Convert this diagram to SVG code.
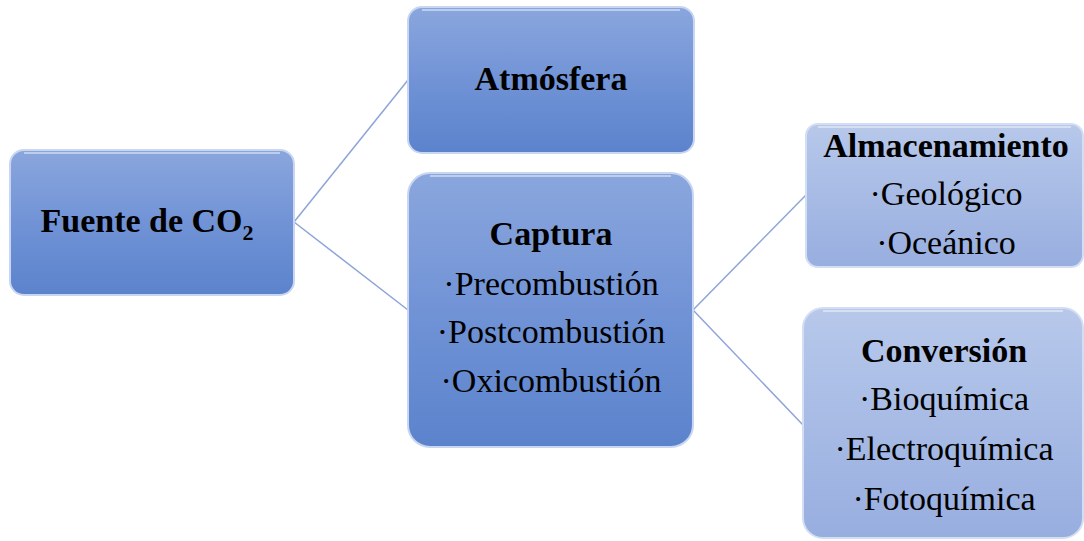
<svg xmlns="http://www.w3.org/2000/svg" width="1084" height="541" viewBox="0 0 1084 541">
<defs>
<linearGradient id="gDark" x1="0" y1="0" x2="0" y2="1">
<stop offset="0" stop-color="#8aa6dd"/>
<stop offset="0.5" stop-color="#7193d6"/>
<stop offset="1" stop-color="#5b83cc"/>
</linearGradient>
<linearGradient id="gLight" x1="0" y1="0" x2="0" y2="1">
<stop offset="0" stop-color="#b7c8ea"/>
<stop offset="0.5" stop-color="#a7bbe5"/>
<stop offset="1" stop-color="#98aedf"/>
</linearGradient>
<style>
.dark{fill:url(#gDark);stroke:#c9d6f1;stroke-width:2}
.light{fill:url(#gLight);stroke:#d3ddf3;stroke-width:2}
.hl{fill:none;stroke:#ffffff;stroke-opacity:0.45;stroke-width:2}
text{font-family:"Liberation Serif","Times New Roman",serif;font-size:34px;fill:#000;text-anchor:middle}
.t{font-weight:bold}
.conn{fill:none;stroke:#8ea4d9;stroke-width:1.5}
</style>
</defs>
<g id="connectors">
<path class="conn" d="M294,222 L408,80"/>
<path class="conn" d="M294,222 L408,310"/>
<path class="conn" d="M693,310 L806,195"/>
<path class="conn" d="M693,310 L803,425"/>
</g>
<g id="fuente">
<rect class="dark" x="10" y="150" width="284" height="145" rx="14"/>
<path class="hl" d="M24,153 H280"/>
<text class="t" x="147" y="232">Fuente de CO<tspan font-size="22" dy="8">2</tspan></text>
</g>
<g id="atmosfera">
<rect class="dark" x="408" y="7" width="286" height="146" rx="14"/>
<path class="hl" d="M422,10 H680"/>
<text class="t" x="551" y="90">Atmósfera</text>
</g>
<g id="captura">
<rect class="dark" x="408" y="173" width="285" height="274" rx="22"/>
<path class="hl" d="M430,176 H671"/>
<text class="t" x="551" y="245">Captura</text>
<text x="551" y="295">·Precombustión</text>
<text x="551" y="343">·Postcombustión</text>
<text x="551" y="392">·Oxicombustión</text>
</g>
<g id="almacenamiento">
<rect class="light" x="806" y="124" width="277" height="143" rx="12"/>
<path class="hl" d="M818,127 H1071"/>
<text class="t" x="946" y="157">Almacenamiento</text>
<text x="946" y="205">·Geológico</text>
<text x="946" y="254">·Oceánico</text>
</g>
<g id="conversion">
<rect class="light" x="803" y="308" width="280" height="230" rx="20"/>
<path class="hl" d="M823,311 H1063"/>
<text class="t" x="944" y="362">Conversión</text>
<text x="944" y="410">·Bioquímica</text>
<text x="944" y="460">·Electroquímica</text>
<text x="944" y="510">·Fotoquímica</text>
</g>
</svg>
